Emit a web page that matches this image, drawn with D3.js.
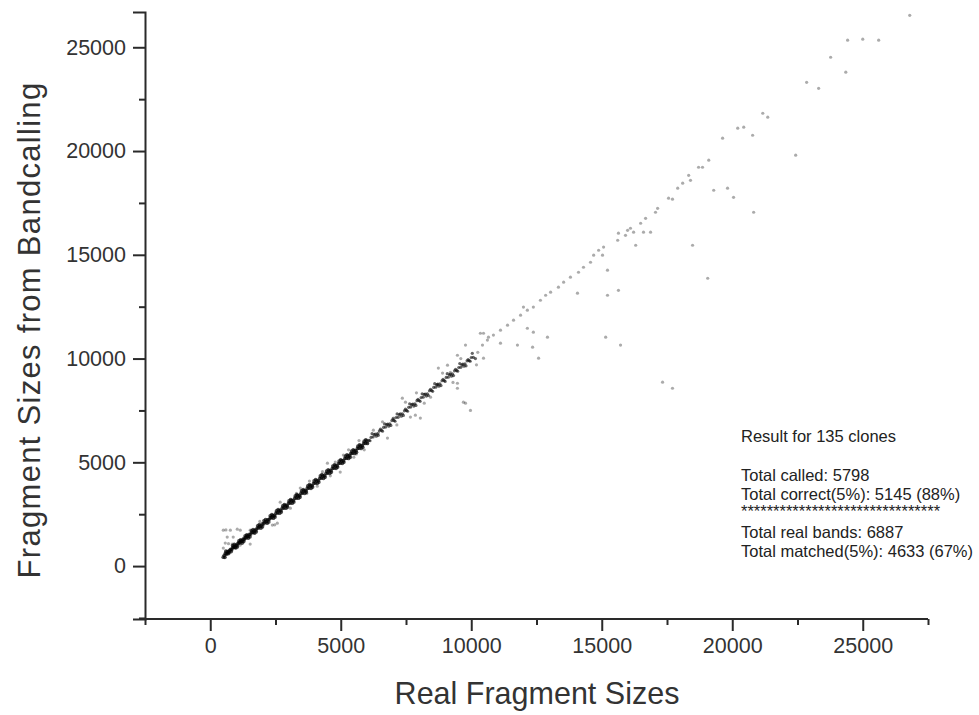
<!DOCTYPE html>
<html><head><meta charset="utf-8">
<script src="https://cdn.jsdelivr.net/npm/d3@7"></script>
<style>body{margin:0;background:#fff}svg{display:block}</style>
</head><body>
<svg id="c" width="979" height="715"></svg>
<script>
// ---- DATA (real fragment size, called fragment size) ----
const xMajorTicks = [0, 5000, 10000, 15000, 20000, 25000];
const xMinorTicks = [-2500, 2500, 7500, 12500, 17500, 22500, 27500];
const yMajorTicks = [0, 5000, 10000, 15000, 20000, 25000];
const yMinorTicks = [-2500, 2500, 7500, 12500, 17500, 22500];
const xLabel = "Real Fragment Sizes";
const yLabel = "Fragment Sizes from Bandcalling";
const resultLines = ["Result for 135 clones", "", "Total called: 5798", "Total correct(5%): 5145 (88%)",
  "*******************************", "Total real bands: 6887", "Total matched(5%): 4633 (67%)"];

const denseLow = [[500,430],[540,520],[580,610],[620,580],[660,700],[700,680],[740,760],[780,800],[820,790],[860,880],[900,920],[940,900],[980,1010],[1020,1000],[1060,1090],[1100,1120],[1140,1130],[1180,1210],[1220,1200],[1260,1290],[1300,1280],[1340,1370],[1380,1360],[1420,1450],[1460,1440],[1500,1530],[1550,1540],[1600,1620],[1650,1630],[1700,1720],[1750,1740],[1800,1830],[1850,1840],[1900,1920],[1950,1940],[2000,2030],[2050,2040],[2100,2120],[2150,2140],[2200,2230],[2250,2240],[2300,2320],[2350,2340],[2400,2430],[2460,2440],[2520,2550],[2580,2560],[2640,2670],[2700,2680],[2760,2790],[2820,2800],[2880,2910],[2940,2920],[3000,3030],[3060,3040],[3120,3150],[3180,3160],[3240,3270],[3300,3280],[3360,3390],[3420,3400],[3480,3510],[3540,3520],[3600,3630],[3660,3640],[3720,3750],[3780,3760],[3840,3870],[3900,3880],[3960,3990],[4020,4000],[4080,4110],[4140,4120],[4200,4230],[4260,4240],[4320,4350],[4380,4360],[4440,4470],[4500,4480],[4560,4590],[4620,4600],[4680,4710],[4740,4720],[4800,4830],[4860,4840],[4920,4950],[4980,4960],[5040,5070],[5100,5080],[5160,5190],[5220,5200],[5280,5310],[5340,5320],[5400,5430],[5460,5440],[5520,5550],[5580,5560],[5640,5670],[5700,5680],[5760,5790],[5820,5800],[5880,5910],[5940,5920],[6000,6030]];
const denseLowB = [[560,420],[680,600],[800,700],[920,1040],[1040,930],[1160,1260],[1280,1180],[1400,1500],[1520,1410],[1640,1760],[1760,1650],[1880,2000],[2000,1890],[2120,2240],[2240,2130],[2360,2480],[2480,2370],[2600,2720],[2720,2610],[2840,2960],[2960,2850],[3080,3200],[3200,3090],[3320,3440],[3440,3330],[3560,3680],[3680,3570],[3800,3920],[3920,3810],[4040,4160],[4160,4050],[4280,4400],[4400,4290],[4520,4640],[4640,4530],[4760,4880],[4880,4770],[5000,5120],[5120,5010],[5240,5360],[5360,5250],[5480,5600],[5600,5490],[5720,5840],[5840,5730],[5960,6080]];
const denseLowC = [[600,720],[720,640],[860,980],[980,880],[1100,1210],[1220,1110],[1340,1460],[1460,1350],[1580,1700],[1700,1590],[1820,1940],[1940,1830],[2060,2180],[2180,2070],[2300,2420],[2420,2310],[2540,2660],[2660,2550],[2780,2900],[2900,2790],[3020,3140],[3140,3030],[3260,3380],[3380,3270],[3500,3620],[3620,3510],[3740,3860],[3860,3750],[3980,4100],[4100,3990],[4220,4340],[4340,4230],[4460,4580],[4580,4470],[4700,4820],[4820,4710],[4940,5060],[5060,4950],[5180,5300],[5300,5190],[5420,5540],[5540,5430],[5660,5780],[5780,5670],[5900,6020],[6020,5910]];
const denseMid = [[6080,6060],[6160,6200],[6240,6220],[6320,6360],[6400,6370],[6480,6520],[6560,6540],[6640,6680],[6720,6700],[6800,6840],[6880,6850],[6960,7010],[7040,7020],[7120,7160],[7200,7170],[7280,7330],[7360,7340],[7440,7480],[7520,7500],[7600,7650],[7680,7660],[7760,7800],[7840,7820],[7920,7970],[8000,7980],[8080,8120],[8160,8140],[8240,8290],[8320,8300],[8400,8450],[8480,8460],[8560,8610],[8640,8620],[8720,8770],[8800,8780],[8880,8930],[8960,8940],[9040,9090],[9120,9100],[9200,9250],[9280,9260],[9360,9410],[9440,9420],[9520,9570],[9600,9580],[9680,9730],[9760,9740],[9840,9890],[9920,9900],[10000,10050],[10080,10060]];
const denseMidB = [[6200,6380],[6440,6300],[6680,6850],[6920,6780],[7160,7330],[7400,7260],[7640,7820],[7880,7740],[8120,8300],[8360,8220],[8600,8790],[8840,8700],[9080,9270],[9320,9180],[9560,9760],[9800,9650],[10040,10250],[10160,10000]];
const denseMidC = [[6120,6040],[6280,6330],[6360,6260],[6520,6600],[6600,6500],[6760,6820],[6840,6740],[7000,7090],[7080,6980],[7240,7300],[7320,7220],[7480,7560],[7560,7460],[7720,7780],[7800,7710],[7960,8040],[8040,7940],[8200,8270],[8280,8190],[8440,8520],[8520,8420],[8680,8740],[8760,8670],[8920,9000],[9000,8900],[9160,9220],[9240,9150],[9400,9480],[9480,9390],[9640,9700],[9720,9630],[9880,9950],[9960,9870]];
const lowCluster = [[500,1730],[600,1740],[770,1730],[1035,1780],[1150,1730],[1530,1730],[650,1400],[880,1400],[1270,1350],[575,1110],[700,1080],[840,1060],[1150,1010],[1530,1060],[500,870],[650,630],[2380,1975],[2470,1990],[2570,2070]];
const fuzz = [[1900,2150],[2680,3080],[3070,2790],[3450,3760],[3800,4100],[4100,3850],[4490,4960],[4790,5010],[4980,4530],[5370,5440],[5300,5600],[5500,5250],[5700,6050],[5900,5600],[6020,5920],[6250,6550],[6440,6410],[6790,6170],[7020,7130],[7360,8090],[7480,7900],[7670,7180],[7860,7270],[8050,7130],[8440,8140],[8700,8720],[8740,9540],[9090,9680],[9200,9340],[9470,10160],[9470,8810],[9780,7850],[9780,10650],[9700,7900],[9470,8570],[9970,7500],[10470,11220],[10660,11030],[10350,11220],[10470,10020],[11120,10740],[11770,10650],[12350,10550],[12580,10020],[12150,11460],[12380,11270],[12920,11030],[14070,13150],[6600,6950],[7150,6800],[7900,8350],[8200,7850],[8900,9300],[9300,8850],[9600,10000],[10200,9700],[3300,3500],[3700,3500],[4300,4550],[4600,4350],[5100,5350],[5600,5400]];
const upperLine = [[10250,10300],[10430,10650],[10620,10890],[10850,11130],[11120,11370],[11390,11610],[11620,11850],[11890,12090],[12000,12480],[12150,12330],[12380,12480],[12650,12810],[12850,13050],[13040,13200],[13340,13440],[13540,13680],[13800,13920],[14110,14160],[14300,14400],[14570,14640],[14690,14980],[14880,15220],[15070,15370],[15030,14980],[15610,15700],[15640,16040],[15910,15940],[15990,16180],[16100,16280],[16220,16090],[16490,16520],[16680,16760],[17060,17050],[17140,17240],[17560,17730],[17710,17680],[17910,18210],[18100,18450],[18330,18830],[18400,18590],[18710,19220],[18860,19220],[19100,19560],[19630,20620],[20210,21100],[20440,21150],[20780,20760],[21170,21820],[21360,21630],[22850,23310],[23310,23020],[23770,24520],[24350,23800],[24420,25340],[25000,25390],[25610,25340],[26800,26540]];
const outliers = [[15220,14260],[15220,13050],[15640,13290],[15150,11030],[15720,10650],[16300,15460],[16600,16090],[16870,16090],[17330,8860],[17710,8570],[18480,15460],[19060,13870],[19290,18110],[19820,18210],[20050,17770],[20820,17050],[22430,19800]];

const x = d3.scaleLinear().domain([-2500, 27500]).range([145, 928]);
const y = d3.scaleLinear().domain([-2550, 26700]).range([619, 12]);
const svg = d3.select("#c");
const font = "'Liberation Sans', Arial, sans-serif";

function drawPoints(data, r, op) {
  svg.append("g").selectAll("circle").data(data).join("circle")
    .attr("cx", d => x(d[0])).attr("cy", d => y(d[1])).attr("r", r)
    .attr("fill", "#000").attr("fill-opacity", op);
}
drawPoints([].concat(lowCluster, fuzz, upperLine, outliers), 1.6, 0.33);
drawPoints([].concat(denseLow, denseLowB, denseLowC), 1.9, 0.7);
drawPoints([].concat(denseMid, denseMidB, denseMidC), 1.6, 0.6);

// axes
const gx = svg.append("g").attr("transform", `translate(0,${y(-2550)})`);
gx.call(d3.axisBottom(x).tickValues(xMajorTicks).tickSize(12).tickPadding(7).tickFormat(d3.format("d")));
const gxm = svg.append("g").attr("transform", `translate(0,${y(-2550)})`);
gxm.call(d3.axisBottom(x).tickValues(xMinorTicks).tickSize(6).tickFormat(""));
const gy = svg.append("g").attr("transform", `translate(${x(-2500)},0)`);
gy.call(d3.axisLeft(y).tickValues(yMajorTicks).tickSize(12).tickPadding(7).tickFormat(d3.format("d")));
const gym = svg.append("g").attr("transform", `translate(${x(-2500)},0)`);
gym.call(d3.axisLeft(y).tickValues(yMinorTicks).tickSize(6).tickFormat(""));
[gx, gxm, gy, gym].forEach(g => {
  g.select(".domain").attr("stroke", "#2a2a2a").attr("stroke-width", 2);
  g.selectAll(".tick line").attr("stroke", "#2a2a2a").attr("stroke-width", 2);
  g.selectAll("text").attr("font-family", font).attr("font-size", 21.5).attr("fill", "#333");
});
gx.select(".domain").attr("d", `M${x(-2500)-2},0H${x(27500)}`);
gxm.select(".domain").remove();
gym.select(".domain").remove();

svg.append("text").attr("x", 537).attr("y", 704).attr("text-anchor", "middle")
  .attr("font-family", font).attr("font-size", 30.5).attr("fill", "#333").text(xLabel);
svg.append("text").attr("transform", "translate(40,330) rotate(-90)").attr("text-anchor", "middle")
  .attr("font-family", font).attr("font-size", 31).attr("letter-spacing", 1.3).attr("fill", "#333").text(yLabel);

const ann = svg.append("text").attr("font-family", font).attr("font-size", 16.5).attr("fill", "#222");
const lineYs = [442, 461, 481, 500, 517, 538, 557];
resultLines.forEach((t, i) => {
  if (t) ann.append("tspan").attr("x", 741).attr("y", lineYs[i]).text(t);
});
</script>
</body></html>
